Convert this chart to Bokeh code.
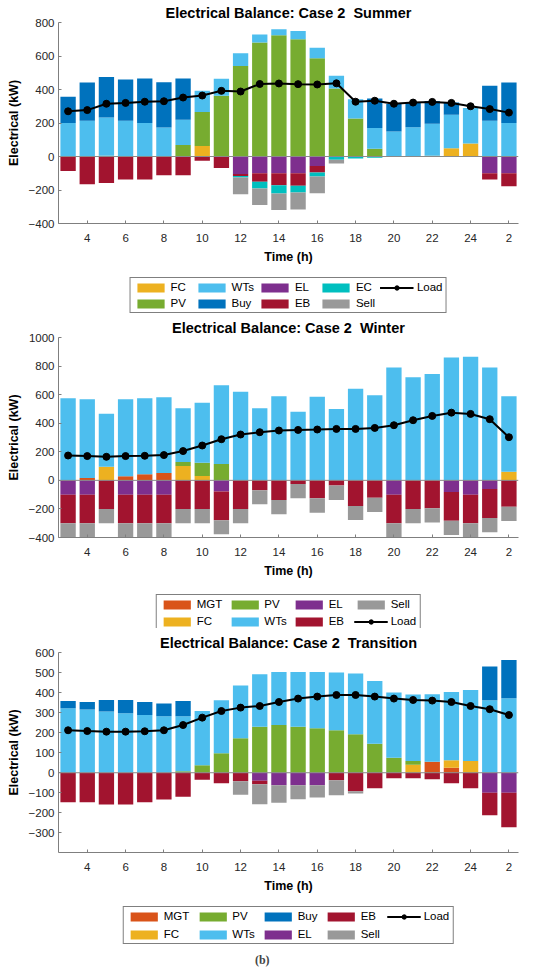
from bokeh.plotting import figure
from bokeh.models import (ColumnDataSource, Legend, LegendItem, FixedTicker, Span,
                          Range1d, Label)
from bokeh.layouts import column
from bokeh.embed import file_html
from bokeh.resources import INLINE

hours = list(range(3, 27))
x_ticks = [4, 6, 8, 10, 12, 14, 16, 18, 20, 22, 24, 26]
x_tick_labels = ["4", "6", "8", "10", "12", "14", "16", "18", "20", "22", "24", "2"]

# ---------------- Summer ----------------
s_fc = [0, 0, 5, 0, 0, 0, 0, 62, 0, 0, 0, 0, 0, 0, 0, 0, 0, 0, 0, 5, 50, 78, 0, 0]
s_pv = [0, 0, 0, 0, 0, 0, 68, 203, 362, 541, 680, 724, 700, 587, 406, 227, 46, 0, 0, 0, 0, 0, 0, 0]
s_wts = [200, 213, 228, 213, 200, 173, 151, 127, 102, 76, 48, 36, 50, 62, 76, 115, 124, 150, 175, 190, 200, 212, 213, 200]
s_buy = [157, 229, 242, 247, 266, 271, 247, 0, 0, 0, 0, 0, 0, 0, 0, 0, 176, 163, 147, 137, 72, 0, 209, 242]
s_el = [0, 0, 0, 0, 0, 0, 0, 0, 0, -105, -100, -100, -100, -56, 0, 0, 0, 0, 0, 0, 0, 0, -100, -100]
s_eb = [-86, -165, -158, -138, -138, -112, -112, -25, -68, -12, -51, -71, -75, -40, 0, 0, 0, 0, 0, 0, 0, 0, -38, -78]
s_ec = [0, 0, 0, 0, 0, 0, 0, 0, 0, -8, -40, -50, -40, -23, -20, -12, -8, 0, 0, 0, 0, 0, 0, 0]
s_sell = [0, 0, 0, 0, 0, 0, 0, 0, 0, -100, -99, -99, -101, -100, -22, 0, 0, 0, 0, 0, 0, 0, 0, 0]
s_load = [270, 277, 315, 320, 327, 330, 352, 364, 392, 388, 433, 436, 432, 430, 437, 327, 333, 315, 322, 326, 320, 300, 283, 262]

# ---------------- Winter ----------------
w_mgt = [0, 16, 0, 28, 42, 51, 0, 0, 0, 0, 0, 0, 0, 0, 0, 0, 0, 0, 0, 0, 0, 0, 0, 0]
w_fc = [0, 0, 95, 0, 0, 0, 100, 30, 0, 0, 0, 0, 0, 0, 0, 0, 0, 0, 0, 0, 0, 0, 0, 60]
w_pv = [0, 0, 0, 0, 0, 0, 28, 93, 114, 0, 0, 0, 0, 0, 0, 0, 0, 0, 0, 0, 0, 0, 0, 0]
w_wts = [574, 551, 372, 539, 532, 530, 377, 421, 551, 621, 505, 588, 481, 586, 500, 642, 595, 790, 721, 744, 860, 865, 790, 528]
w_el = [-100, -100, 0, -100, -100, -100, 0, 0, -78, 0, 0, 0, 0, 0, 0, 0, 0, -100, 0, 0, -82, -100, -60, 0]
w_eb = [-200, -200, -200, -200, -200, -200, -200, -200, -202, -200, -70, -137, -26, -125, -36, -179, -121, -200, -200, -195, -200, -200, -203, -184]
w_sell = [-100, -100, -100, -100, -100, -100, -100, -100, -97, -100, -97, -100, -100, -101, -101, -98, -100, -100, -100, -100, -100, -100, -100, -100]
w_load = [174, 170, 165, 170, 172, 177, 205, 244, 288, 321, 337, 349, 353, 356, 360, 360, 367, 386, 421, 451, 474, 465, 428, 302]

# ---------------- Transition ----------------
t_mgt = [0, 0, 0, 0, 0, 0, 0, 0, 0, 0, 0, 0, 0, 0, 0, 0, 0, 0, 0, 55, 25, 0, 0, 0]
t_fc = [0, 0, 0, 0, 0, 0, 0, 0, 0, 0, 0, 0, 0, 0, 0, 0, 0, 0, 40, 0, 37, 58, 0, 0]
t_pv = [0, 0, 0, 0, 0, 0, 8, 38, 97, 172, 230, 238, 230, 222, 212, 192, 145, 75, 18, 0, 0, 0, 0, 0]
t_wts = [322, 315, 305, 297, 288, 282, 274, 270, 265, 263, 262, 265, 273, 281, 288, 303, 313, 325, 332, 337, 341, 355, 362, 372]
t_buy = [36, 38, 58, 66, 65, 63, 76, 0, 0, 0, 0, 0, 0, 0, 0, 0, 0, 0, 0, 0, 0, 0, 168, 190]
t_el = [0, 0, 0, 0, 0, 0, 0, 0, 0, 0, -40, -63, -62, -62, 0, 0, 0, 0, 0, 0, 0, 0, -100, -100]
t_eb = [-147, -147, -158, -158, -147, -133, -120, -35, -52, -42, -18, 0, 0, 0, -38, -92, -78, -28, -28, -33, -52, -78, -112, -172]
t_sell = [0, 0, 0, 0, 0, 0, 0, 0, 0, -68, -99, -87, -70, -61, -74, -11, 0, 0, 0, 0, 0, 0, 0, 0]
t_load = [212, 208, 205, 205, 207, 212, 238, 275, 308, 325, 333, 353, 370, 380, 388, 388, 380, 370, 363, 360, 353, 333, 317, 288]

COLORS = {
    "MGT": "#D95319", "FC": "#EDB120", "PV": "#77AC30", "WTs": "#4DBEEE",
    "Buy": "#0072BD", "EL": "#7E2F8E", "EB": "#A2142F", "EC": "#00BFBF",
    "Sell": "#999999",
}
FONT = "Liberation Sans"
W = 530
LEFT = 58
RIGHT = 12


def make_panel(title, pos, neg, load, yr, yticks, height, top, bottom):
    p = figure(width=W, height=height,
               x_range=Range1d(2.5, 26.5), y_range=Range1d(*yr),
               output_backend="svg", toolbar_location=None,
               min_border_left=LEFT, min_border_right=RIGHT, min_border_top=top,
               min_border_bottom=bottom)
    p.title.text = title
    p.title.align = "center"
    p.title.text_font = FONT
    p.title.text_font_size = "14.5px"
    p.title.text_font_style = "bold"
    p.title.text_color = "black"
    p.title.standoff = 3
    p.outline_line_color = None
    p.xgrid.visible = False
    p.ygrid.visible = False

    data = {"x": hours}
    for k, v in pos.items():
        data["p_" + k] = v
    for k, v in neg.items():
        data["n_" + k] = v
    src = ColumnDataSource(data)

    pk = list(pos.keys())
    p.vbar_stack(["p_" + k for k in pk], x="x", width=0.8, source=src,
                 color=[COLORS[k] for k in pk], line_color=None)
    nk = list(neg.keys())
    p.vbar_stack(["n_" + k for k in nk], x="x", width=0.8, source=src,
                 color=[COLORS[k] for k in nk], line_color=None)

    p.add_layout(Span(location=0, dimension="width", line_color="#8a8a8a",
                      line_width=1))

    p.line(hours, load, line_color="black", line_width=2)
    p.scatter(hours, load, size=7, color="black")

    p.xaxis.ticker = FixedTicker(ticks=x_ticks)
    p.xaxis.major_label_overrides = {t: l for t, l in zip(x_ticks, x_tick_labels)}
    p.yaxis.ticker = FixedTicker(ticks=yticks)
    p.yaxis.major_label_overrides = {t: (("\u2212" + str(-t)) if t < 0 else str(t)) for t in yticks}
    for ax in (p.xaxis[0], p.yaxis[0]):
        ax.axis_line_color = "#7f7f7f"
        ax.major_tick_line_color = "#7f7f7f"
        ax.major_tick_in = 3
        ax.major_tick_out = 0
        ax.minor_tick_line_color = None
        ax.major_label_text_font = FONT
        ax.major_label_text_font_size = "11.5px"
        ax.major_label_text_color = "#262626"
        ax.axis_label_text_font = FONT
        ax.axis_label_text_font_size = "12.5px"
        ax.axis_label_text_font_style = "bold"
        ax.axis_label_text_color = "#000000"
    p.xaxis.axis_label = "Time (h)"
    p.yaxis.axis_label = "Electrical (kW)"
    p.xaxis.major_label_standoff = 10
    p.xaxis.axis_label_standoff = 5
    p.yaxis.major_label_standoff = 4
    p.yaxis.axis_label_standoff = 5
    return p


def make_legend(order, height, margin, spacing, caption=None):
    lf = figure(width=W, height=height, x_range=Range1d(0, 1),
                y_range=Range1d(0, height), x_axis_type=None, y_axis_type=None,
                output_backend="svg", toolbar_location=None,
                min_border_left=LEFT, min_border_right=RIGHT, min_border_top=0,
                min_border_bottom=0)
    lf.outline_line_color = None
    lf.xgrid.visible = False
    lf.ygrid.visible = False
    items = []
    for k in order:
        # legend key glyphs only: their point lies far outside the visible range
        if k == "Load":
            r1 = lf.line([-30, -29], [-500, -500], line_color="black", line_width=2)
            r2 = lf.scatter([-30], [-500], size=7, color="black")
            items.append(LegendItem(label=k, renderers=[r1, r2]))
        else:
            r = lf.vbar(x=[-30], top=[-500], bottom=[-501], width=0.8,
                        color=COLORS[k], line_color=None)
            items.append(LegendItem(label=k, renderers=[r]))
    leg = Legend(items=items, orientation="horizontal",
                 ncols=len(items) // 2 + len(items) % 2,
                 location="top_center", label_text_font=FONT,
                 label_text_font_size="11.5px", label_text_color="black",
                 glyph_width=34, glyph_height=11,
                 label_standoff=3, label_height=12, spacing=spacing, padding=3,
                 margin=margin, border_line_color="black", border_line_width=1,
                 background_fill_color="white")
    lf.add_layout(leg, "center")
    if caption:
        lf.add_layout(Label(x=0.443, y=9, text=caption, text_align="center",
                            text_baseline="middle", text_font="Liberation Serif",
                            text_font_size="12px", text_font_style="bold"))
    return lf


p1 = make_panel("Electrical Balance: Case 2\u00a0 Summer",
                {"FC": s_fc, "PV": s_pv, "WTs": s_wts, "Buy": s_buy},
                {"EL": s_el, "EB": s_eb, "EC": s_ec, "Sell": s_sell},
                s_load, (-400, 800), [-400, -200, 0, 200, 400, 600, 800],
                271, 22, 48)
# legend items listed row by row (first row, then second row)
l1 = make_legend(["FC", "WTs", "EL", "EC", "Load", "PV", "Buy", "EB", "Sell"], 43, 6, 4)
p2 = make_panel("Electrical Balance: Case 2\u00a0 Winter",
                {"MGT": w_mgt, "FC": w_fc, "PV": w_pv, "WTs": w_wts},
                {"EL": w_el, "EB": w_eb, "Sell": w_sell},
                w_load, (-400, 1000), [-400, -200, 0, 200, 400, 600, 800, 1000],
                271, 23, 48)
l2 = make_legend(["MGT", "PV", "EL", "Sell", "FC", "WTs", "EB", "Load"], 43, 9, 5)
p3 = make_panel("Electrical Balance: Case 2\u00a0 Transition",
                {"MGT": t_mgt, "FC": t_fc, "PV": t_pv, "WTs": t_wts, "Buy": t_buy},
                {"EL": t_el, "EB": t_eb, "Sell": t_sell},
                t_load, (-398, 600), [-300, -200, -100, 0, 100, 200, 300, 400, 500, 600],
                272, 24, 48)
l3 = make_legend(["MGT", "PV", "Buy", "EB", "Load", "FC", "WTs", "EL", "Sell"], 68, 6, 6,
                 caption="(b)")

layout = column(p1, l1, p2, l2, p3, l3, spacing=0)
open("out.html", "w").write(file_html(layout, INLINE))
